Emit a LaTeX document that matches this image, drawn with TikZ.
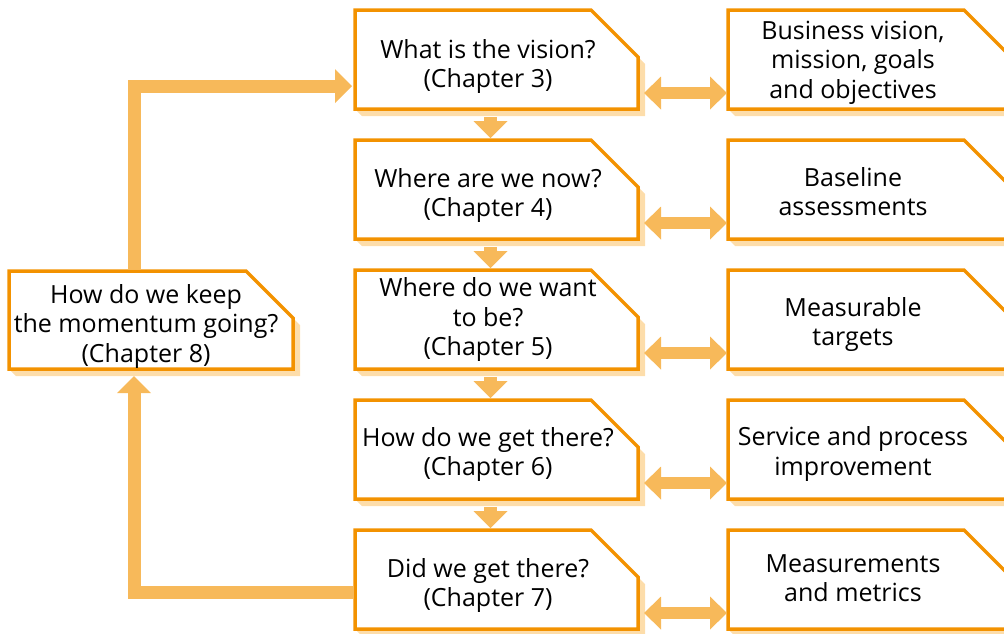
\documentclass[tikz,border=0pt]{standalone}
\usepackage{fontspec}
\setmainfont{Open Sans}
\usetikzlibrary{arrows.meta,calc,positioning}

\definecolor{boxedge}{RGB}{243,146,0}
\definecolor{boxshade}{RGB}{253,221,170}
\definecolor{flowfill}{RGB}{247,185,90}

\tikzset{
  x=1pt, y=-1pt,
  stagebox/.style = {rectangle, inner sep=0pt, outer sep=0pt,
    minimum width=283pt, minimum height=99pt,
    append after command={\pgfextra{
      % shadow on the right and below, then the outline with its cut corner
      \fill [boxshade] ([yshift=-47pt]\tikzlastnode.north east) -- ++(7pt,-7pt)
        -- ([shift={(7pt,-7pt)}]\tikzlastnode.south east)
        -- ([shift={(7pt,-7pt)}]\tikzlastnode.south west)
        -- (\tikzlastnode.south west) -- (\tikzlastnode.south east) -- cycle;
      \draw [boxedge, line width=3.5pt] (\tikzlastnode.south west)
        -- (\tikzlastnode.north west) -- ([xshift=-47pt]\tikzlastnode.north east)
        -- ([yshift=-47pt]\tikzlastnode.north east) -- (\tikzlastnode.south east)
        -- cycle;
    }}},
  steptext/.style = {align=center, inner sep=0pt, font=\fontsize{25}{29.5}\selectfont},
  flowarrow/.style = {flowfill, line width=13pt,
    -{Triangle[width=34pt,length=17pt,line width=0pt]}},
  linkarrow/.style = {flowfill, line width=12pt,
    {Triangle[width=33pt,length=17pt,line width=0pt]}-{Triangle[width=33pt,length=17pt,line width=0pt]}}
}

\begin{document}
\begin{tikzpicture}
\useasboundingbox (0,0) rectangle (1004,633);
\clip (0,0) rectangle (1004,633);

% boxes: the steps in the middle, what they give on the right
\foreach \n/\y in {1/59.5, 2/189.5, 3/319.5, 4/449.5, 5/579.5} {
  \node [stagebox] (m\n) at (496.5,\y) {};
  \node [stagebox] (g\n) at (869.5,\y) {};
}
\node [stagebox, minimum width=284pt, minimum height=98pt] (keep) at (151,320) {};

% texts
\node [steptext] (m1-text) at ($(m1)+(-8.5,7)$) {What is the vision?\\(Chapter 3)};
\node [steptext] (m2-text) at ($(m2)+(-8.5,6)$) {Where are we now?\\(Chapter 4)};
\node [steptext] (m3-text) at ($(m3)+(-8.5,0)$) {Where do we want\\to be?\\(Chapter 5)};
\node [steptext] (m4-text) at ($(m4)+(-8.5,5)$) {How do we get there?\\(Chapter 6)};
\node [steptext] (m5-text) at ($(m5)+(-8.5,6)$) {Did we get there?\\(Chapter 7)};

\node [steptext] (g1-text) at ($(g1)+(-16.5,3)$) {Business vision,\\mission, goals\\and objectives};
\node [steptext] (g2-text) at ($(g2)+(-16.5,2)$) {Baseline\\assessments};
\node [steptext] (g3-text) at ($(g3)+(-16.5,5)$) {Measurable\\targets};
\node [steptext] (g4-text) at ($(g4)+(-16.5,4.5)$) {Service and process\\improvement};
\node [steptext] (g5-text) at ($(g5)+(-16.5,-1.5)$) {Measurements\\and metrics};

\node [steptext] (keep-text) at ($(keep)+(-5,6)$) {How do we keep\\the momentum going?\\(Chapter 8)};

% arrows
\foreach \i [evaluate=\i as \j using int(\i+1)] in {1,...,4}
  \draw [flowarrow] ($(m\i.south)+(-6,8)$) -- ($(m\j.north)+(-6,-2)$);

\foreach \i in {1,...,5}
  \draw [linkarrow] ($(m\i.east)+(6,33.5)$) -- ($(g\i.west)+(-1,33.5)$);

\draw [flowarrow] ($(keep.north west)+(125,-2)$) |- ($(m1.west)+(-3,26.5)$);
\draw [flowarrow] ($(m5.west)+(-2,12.5)$) -| ($(keep.south west)+(125,7)$);
\end{tikzpicture}
\end{document}
